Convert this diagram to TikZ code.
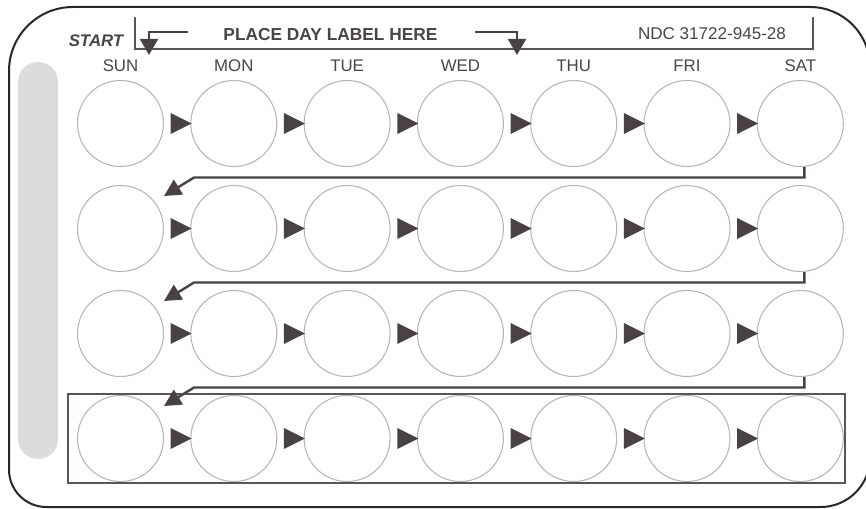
\documentclass[tikz,border=0pt]{standalone}
\usepackage{fontspec}
\setmainfont{Liberation Sans}
\usetikzlibrary{arrows.meta,calc,shapes.geometric}
\definecolor{ink}{HTML}{4A4242}
\definecolor{label}{HTML}{4A4545}
\definecolor{ring}{HTML}{B8B5B5}
\definecolor{bar}{HTML}{DCDCDC}
\definecolor{edge}{HTML}{2A2727}
\begin{document}
\begin{tikzpicture}[x=0.75pt,y=-0.75pt,
  pill/.style={circle,draw=ring,line width=0.8pt,minimum size=64.5pt,inner sep=0pt},
  tri/.style={isosceles triangle,isosceles triangle stretches,fill=ink,minimum width=15.75pt,minimum height=15.75pt,inner sep=0pt},
  day/.style={text=label,font=\fontsize{12.6}{14}\selectfont,inner sep=0pt},
  head/.style={text=label,font=\fontsize{12.8}{14}\selectfont,inner sep=0pt},
  frame/.style={draw=ink!90,line width=1.1pt},
  flow/.style={draw=ink,line width=1.8pt,-{Triangle[length=12.75pt,width=12.75pt]}},
  hint/.style={draw=ink,line width=1.4pt,-{Triangle[length=12pt,width=13.5pt]}}]
  \useasboundingbox (0,0) rectangle (866,509);
  % card outline and grip
  \draw[edge,line width=1.5pt] (9,260) [rounded corners=48pt] -- (9,7)
    [rounded corners=45pt] -- (870,7) [rounded corners=37pt] -- (870,507)
    [rounded corners=28pt] -- (9,507) [sharp corners] -- cycle;
  \fill[bar,rounded corners=15pt] (18,62) rectangle (58,459);
  % header
  \draw[frame] (135,17) -- (135,49) -- (813,49) -- (813,17);
  \node[head,font=\fontsize{12.6}{14}\selectfont\bfseries\itshape] (start) at (96,41) {START};
  \node[head,font=\fontsize{13}{14}\selectfont\bfseries] (place) at (330.5,34.5) {PLACE DAY LABEL HERE};
  \node[head] (ndc) at (712,34) {NDC 31722-945-28};
  \coordinate (h1a) at (188,32);
  \coordinate (h1b) at (149,55);
  \coordinate (h2a) at (475,32);
  \coordinate (h2b) at (517,55);
  \draw[hint] (h1a) -| (h1b);
  \draw[hint] (h2a) -| (h2b);
  % week rows
  \foreach \r in {1,...,4}
    \foreach \k in {1,...,7}
      \node[pill] (c-\r-\k) at ({120.5+113.3*(\k-1)},{123.5+105*(\r-1)}) {};
  \foreach \d [count=\k] in {SUN,MON,TUE,WED,THU,FRI,SAT}
    \node[day] (d-\k) at ($(c-1-\k)+(0,-57.5)$) {\d};
  \foreach \r in {1,...,4}
    \foreach \k [count=\j from 2] in {1,...,6}
      \node[tri] (t-\r-\k) at ($(c-\r-\k)!.5!(c-\r-\j)$) {};
  % last week box
  \draw[frame] (68,394) rectangle (845,483);
  % row turns
  \foreach \r [count=\n from 2] in {1,2,3} {
    \coordinate (in-\n) at ($(c-\n-1)+(43.5,-32.5)$);
    \draw[flow] ([xshift=3pt]c-\r-7.south) |- ($(in-\n)+(30,-18.5)$) -- (in-\n);
  }
\end{tikzpicture}
\end{document}
